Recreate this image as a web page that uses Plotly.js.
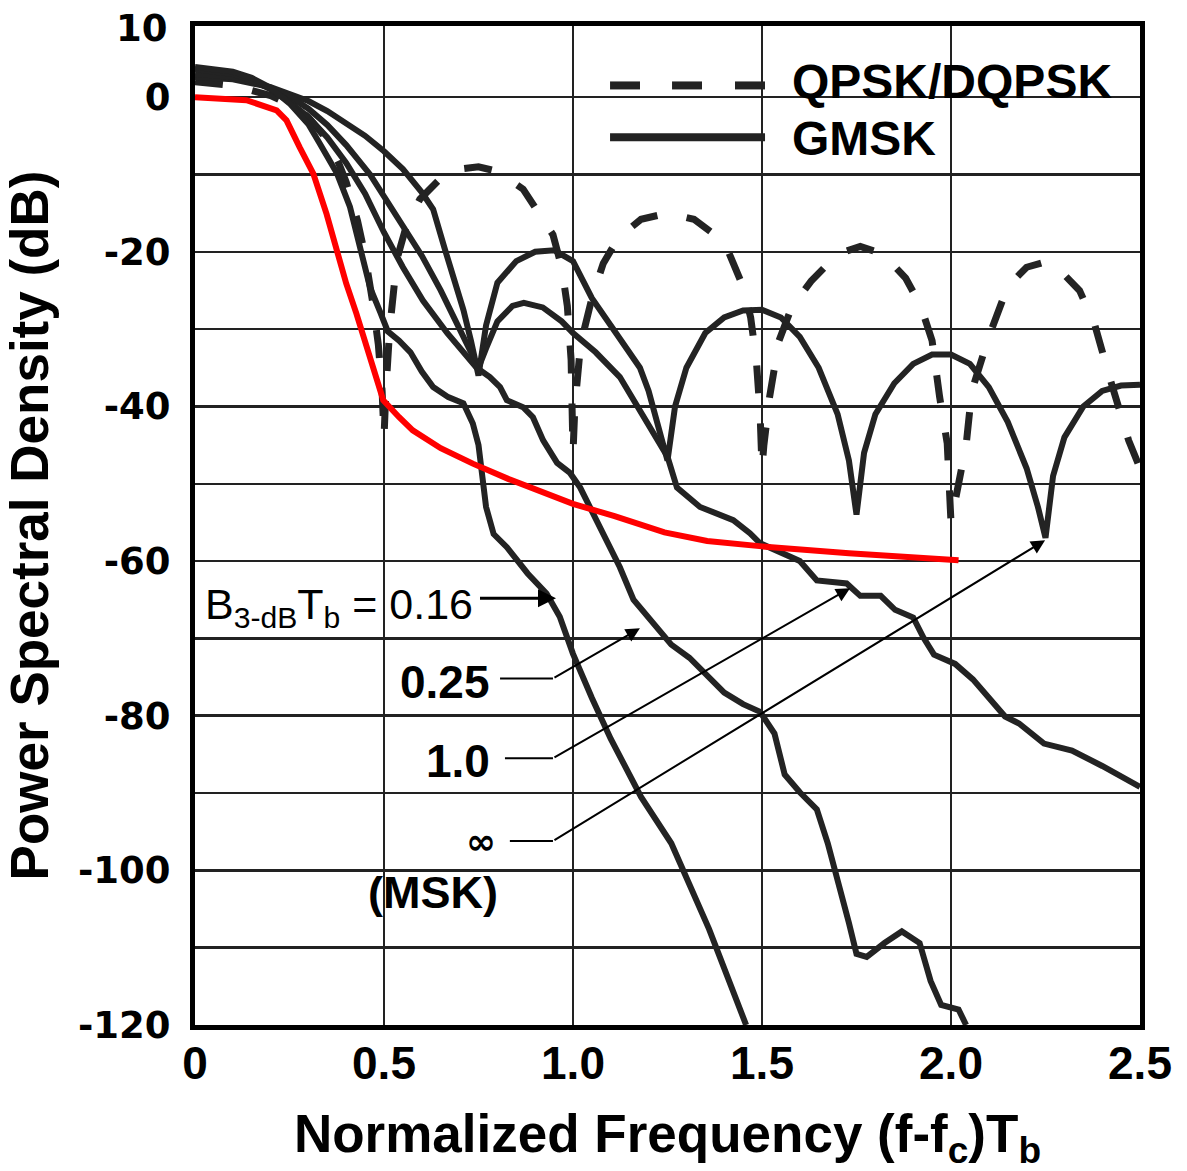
<!DOCTYPE html>
<html><head><meta charset="utf-8">
<script src="https://cdn.plot.ly/plotly-3.0.1.min.js"></script>
<style>html,body{margin:0;padding:0;background:#fff}#chart{width:1187px;height:1171px}</style>
</head><body><div id="chart"></div>
<script>
// ---- data (normalized frequency (f-fc)Tb, PSD in dB) ----
const qpskX = [0,0.1,0.2,0.25,0.3,0.35,0.38,0.4,0.43,0.45,0.47,0.485,0.495,0.5,0.505,0.515,0.534,0.56,0.595,0.65,0.7,0.75,0.8,0.868,0.947,0.97,0.985,0.995,1.0,1.005,1.02,1.05,1.08,1.12,1.18,1.25,1.32,1.4,1.45,1.47,1.485,1.495,1.5,1.505,1.52,1.545,1.58,1.63,1.7,1.76,1.82,1.88,1.92,1.95,1.97,1.99,2.0,2.02,2.04,2.055,2.1,2.15,2.2,2.25,2.29,2.34,2.38,2.42,2.47,2.5];
const qpskY = [2.0,1.5,0.2,-0.9,-2.6,-5.5,-8.5,-11,-16,-20.5,-26.5,-32,-38,-44,-38,-30,-21,-16.5,-13.2,-10.5,-9.3,-9.0,-9.6,-11.9,-17.8,-22,-27,-34,-46,-40,-32,-26,-21.5,-18.2,-15.8,-15,-15.8,-18.7,-24.5,-28.5,-34,-41,-48,-45,-38.8,-31.5,-27,-23.8,-20.3,-19.3,-20.3,-23.4,-27,-31.5,-38.8,-44.8,-55,-50,-45,-38,-31,-24.5,-22,-21.3,-22.5,-25,-29.4,-36.3,-44.4,-48];

const mskX = [0,0.1,0.2,0.25,0.3,0.35,0.4,0.45,0.5,0.55,0.6,0.63,0.66,0.69,0.71,0.73,0.75,0.77,0.8,0.85,0.9,0.95,1.0,1.05,1.1,1.15,1.177,1.2,1.23,1.25,1.27,1.3,1.35,1.4,1.45,1.5,1.55,1.6,1.65,1.7,1.73,1.75,1.77,1.8,1.85,1.9,1.95,2.0,2.05,2.1,2.15,2.2,2.23,2.25,2.27,2.3,2.35,2.4,2.45,2.5];
const mskY = [2.6,2.3,1.3,0.5,-0.5,-1.8,-3.3,-5,-7,-9.3,-12.3,-14.5,-19.5,-24,-27.5,-31.5,-36,-29.5,-24,-21.2,-20,-19.8,-21.2,-26,-29.5,-33,-35,-38,-43,-47,-40,-35,-30.5,-28.5,-27.6,-27.5,-28.5,-31,-35,-41,-47,-54,-46,-41,-37,-34.5,-33.3,-33.3,-34.5,-37.5,-42,-48,-53,-57,-49,-44,-40,-38,-37.3,-37.2];

const bt10X = [0,0.1,0.15,0.2,0.25,0.3,0.35,0.4,0.463,0.5,0.55,0.6,0.65,0.7,0.73,0.75,0.77,0.8,0.84,0.87,0.92,0.97,1.0,1.06,1.124,1.2,1.25,1.275,1.336,1.424,1.468,1.495,1.556,1.6,1.645,1.724,1.76,1.814,1.852,1.9,1.927,1.955,2.011,2.058,2.143,2.18,2.246,2.32,2.4,2.5];
const bt10Y = [3.0,2.6,2.0,1.2,0.1,-1.5,-3.6,-6.2,-10,-12.8,-16.5,-20.5,-25,-30,-33,-35,-32.5,-29,-27,-26.6,-27.2,-29,-30.5,-33,-36.2,-42.2,-46.5,-50.5,-53,-54.7,-56.4,-57.7,-59,-60,-62.5,-62.9,-64.5,-64.5,-66.3,-67.3,-69.9,-72.1,-73.3,-75.3,-80.1,-81,-83.6,-84.5,-86.5,-89.2];

const bt025X = [0,0.1,0.15,0.2,0.25,0.3,0.35,0.4,0.45,0.5,0.55,0.603,0.667,0.745,0.78,0.807,0.825,0.868,0.894,0.921,0.958,0.992,1.019,1.053,1.09,1.124,1.16,1.214,1.26,1.308,1.355,1.4,1.45,1.495,1.533,1.56,1.6,1.645,1.674,1.7,1.73,1.75,1.777,1.824,1.87,1.917,1.946,1.974,2.0,2.02,2.04];
const bt025Y = [3.6,3.0,2.2,1.0,-0.6,-2.6,-5.2,-8.5,-12.5,-17.5,-22,-26.3,-30.5,-35,-36.2,-37.5,-39.2,-40.1,-41.4,-44.4,-47.3,-48.6,-50.5,-53.8,-57.3,-60.8,-65,-68.1,-70.8,-72.5,-74.8,-77,-78.5,-79.5,-82.3,-87.6,-89.9,-92.1,-96.5,-101,-106.8,-110.8,-111.2,-109.4,-107.9,-109.4,-114.3,-117.4,-117.7,-118,-120];

const bt016X = [0,0.1,0.15,0.2,0.25,0.3,0.33,0.375,0.41,0.437,0.463,0.49,0.51,0.54,0.57,0.6,0.63,0.67,0.71,0.735,0.75,0.76,0.77,0.79,0.825,0.88,0.93,0.965,1.0,1.05,1.1,1.18,1.26,1.36,1.458];
const bt016Y = [3.9,3.3,2.5,1.2,-0.8,-3.5,-6,-9.8,-14.2,-19.8,-24.6,-27.8,-30.3,-31.5,-33,-35.5,-37.5,-38.8,-39.6,-42.2,-45,-49,-53,-56.5,-58.2,-61.6,-64.2,-67.2,-72,-77.7,-83,-90.5,-96.5,-107.6,-120];

const redX = [0,0.136,0.216,0.242,0.277,0.313,0.348,0.375,0.4,0.427,0.454,0.48,0.498,0.54,0.576,0.65,0.735,0.83,0.93,1.0,1.11,1.242,1.355,1.5,1.73,2.02];
const redY = [0,-0.4,-1.7,-3.0,-6.5,-9.9,-15.1,-19.8,-24.1,-28,-32.3,-36.6,-39.2,-41.4,-43.1,-45.4,-47.4,-49.4,-51.2,-52.6,-54.2,-56.3,-57.4,-58.1,-59,-59.9];

const xTicks = [0,0.5,1.0,1.5,2.0,2.5];
const xTickText = ['0','0.5','1.0','1.5','2.0','2.5'];
const yTicks = [0,-10,-20,-30,-40,-50,-60,-70,-80,-90,-100,-110,-120];
const yTickText = ['0','','-20','','-40','','-60','','-80','','-100','','-120'];
const yTopLabel = '10';

// ---- styling ----
const INK = '#232323';
const gm = (x,y,name) => ({x:x,y:y,type:'scatter',mode:'lines',name:name,showlegend:false,
  line:{color:INK,width:6,shape:'linear'},hoverinfo:'skip'});

const traces = [
  {x:qpskX,y:qpskY,type:'scatter',mode:'lines',name:'QPSK/DQPSK',showlegend:false,
   line:{color:INK,width:7,dash:'28px,30px'}},
  gm(mskX,mskY,'GMSK ∞ (MSK)'),
  gm(bt10X,bt10Y,'GMSK 1.0'),
  gm(bt025X,bt025Y,'GMSK 0.25'),
  gm(bt016X,bt016Y,'GMSK 0.16'),
  {x:redX,y:redY,type:'scatter',mode:'lines',name:'red',showlegend:false,
   line:{color:'#ff0000',width:6}}
];

const boldArial = {family:'Liberation Sans, Arial, sans-serif', color:'#000', weight:'bold'};
const F = (size, extra) => Object.assign({}, boldArial, {size:size}, extra||{});
const yTickFont = {family:'DejaVu Sans, sans-serif',size:37,color:'#000',weight:'bold'};

const annotations = [
  {x:-0.0265,y:8.9,xref:'paper',yref:'y',xanchor:'right',yanchor:'middle',showarrow:false,text:yTopLabel,font:yTickFont},
  {x:0.741,y:-65.9,xref:'x',yref:'y',xanchor:'right',yanchor:'middle',showarrow:false,
   text:'B<sub>3-dB</sub>T<sub>b</sub> = 0.16',font:{family:'Liberation Sans, Arial, sans-serif',size:43,color:'#000'}},
  {x:0.786,y:-75.7,xref:'x',yref:'y',xanchor:'right',yanchor:'middle',showarrow:false,text:'0.25',font:F(46)},
  {x:0.786,y:-85.8,xref:'x',yref:'y',xanchor:'right',yanchor:'middle',showarrow:false,text:'1.0',font:F(46)},
  {x:0.757,y:-96.3,xref:'x',yref:'y',xanchor:'center',yanchor:'middle',showarrow:false,text:'∞',
   font:{family:'DejaVu Sans, sans-serif',size:36,color:'#000',weight:'bold'}},
  {x:0.807,y:-102.8,xref:'x',yref:'y',xanchor:'right',yanchor:'middle',showarrow:false,text:'(MSK)',font:F(45)},
  // arrows
  {x:0.955,y:-64.8,ax:0.75,ay:-64.8,xref:'x',yref:'y',axref:'x',ayref:'y',showarrow:true,text:'',
   arrowhead:2,arrowsize:1.2,arrowwidth:3,arrowcolor:'#000'},
  {x:1.177,y:-68.7,ax:0.947,ay:-75.2,xref:'x',yref:'y',axref:'x',ayref:'y',showarrow:true,text:'',
   arrowhead:2,arrowsize:1.4,arrowwidth:2,arrowcolor:'#000'},
  {x:1.733,y:-63.5,ax:0.947,ay:-85.5,xref:'x',yref:'y',axref:'x',ayref:'y',showarrow:true,text:'',
   arrowhead:2,arrowsize:1.4,arrowwidth:2,arrowcolor:'#000'},
  {x:2.249,y:-57.3,ax:0.947,ay:-96.2,xref:'x',yref:'y',axref:'x',ayref:'y',showarrow:true,text:'',
   arrowhead:2,arrowsize:1.4,arrowwidth:2,arrowcolor:'#000'},
  // legend texts
  {x:0.6296,y:0.944,xref:'paper',yref:'paper',xanchor:'left',yanchor:'middle',showarrow:false,text:'QPSK/DQPSK',font:F(48)},
  {x:0.6296,y:0.887,xref:'paper',yref:'paper',xanchor:'left',yanchor:'middle',showarrow:false,text:'GMSK',font:F(48)}
];

const shapes = [
  // white patch behind legend (erases grid)
  {type:'rect',xref:'paper',yref:'paper',x0:0.419,x1:0.978,y0:0.856,y1:0.978,fillcolor:'#fff',line:{width:0},layer:'between'},
  // legend samples
  {type:'line',xref:'paper',yref:'paper',x0:0.4392,x1:0.4709,y0:0.9405,y1:0.9405,line:{color:INK,width:8}},
  {type:'line',xref:'paper',yref:'paper',x0:0.5048,x1:0.5365,y0:0.9405,y1:0.9405,line:{color:INK,width:8}},
  {type:'line',xref:'paper',yref:'paper',x0:0.5714,x1:0.6032,y0:0.9405,y1:0.9405,line:{color:INK,width:8}},
  {type:'line',xref:'paper',yref:'paper',x0:0.4392,x1:0.6032,y0:0.8886,y1:0.8886,line:{color:INK,width:8}},
  // horizontal legs of label leader lines
  {type:'line',xref:'x',yref:'y',x0:0.807,x1:0.947,y0:-75.2,y1:-75.2,line:{color:'#000',width:2}},
  {type:'line',xref:'x',yref:'y',x0:0.82,x1:0.947,y0:-85.5,y1:-85.5,line:{color:'#000',width:2}},
  {type:'line',xref:'x',yref:'y',x0:0.833,x1:0.947,y0:-96.2,y1:-96.2,line:{color:'#000',width:2}}
];

const layout = {
  width:1187,height:1171,
  margin:{l:195,r:47,t:26,b:146},
  paper_bgcolor:'#fff',plot_bgcolor:'#fff',
  showlegend:false,
  xaxis:{range:[0,2.5],tickvals:xTicks,ticktext:xTickText,showgrid:true,gridcolor:'#222',gridwidth:2.5,
    zeroline:false,showline:true,linecolor:'#000',linewidth:5,mirror:true,ticks:'',ticklabelstandoff:-6,
    tickfont:F(46),
    title:{text:'Normalized Frequency (f-f<sub>c</sub>)T<sub>b</sub>',font:F(53),standoff:46}},
  yaxis:{range:[-120,9.2],tickvals:yTicks,ticktext:yTickText,showgrid:true,gridcolor:'#222',gridwidth:2.5,
    zeroline:false,showline:true,linecolor:'#000',linewidth:5,mirror:true,ticks:'',ticklabelstandoff:12,
    tickfont:yTickFont,
    title:{text:'Power Spectral Density (dB)',font:F(53),standoff:26}},
  annotations:annotations,
  shapes:shapes
};

Plotly.newPlot('chart',traces,layout,{staticPlot:true,displayModeBar:false});
</script>
</body></html>
